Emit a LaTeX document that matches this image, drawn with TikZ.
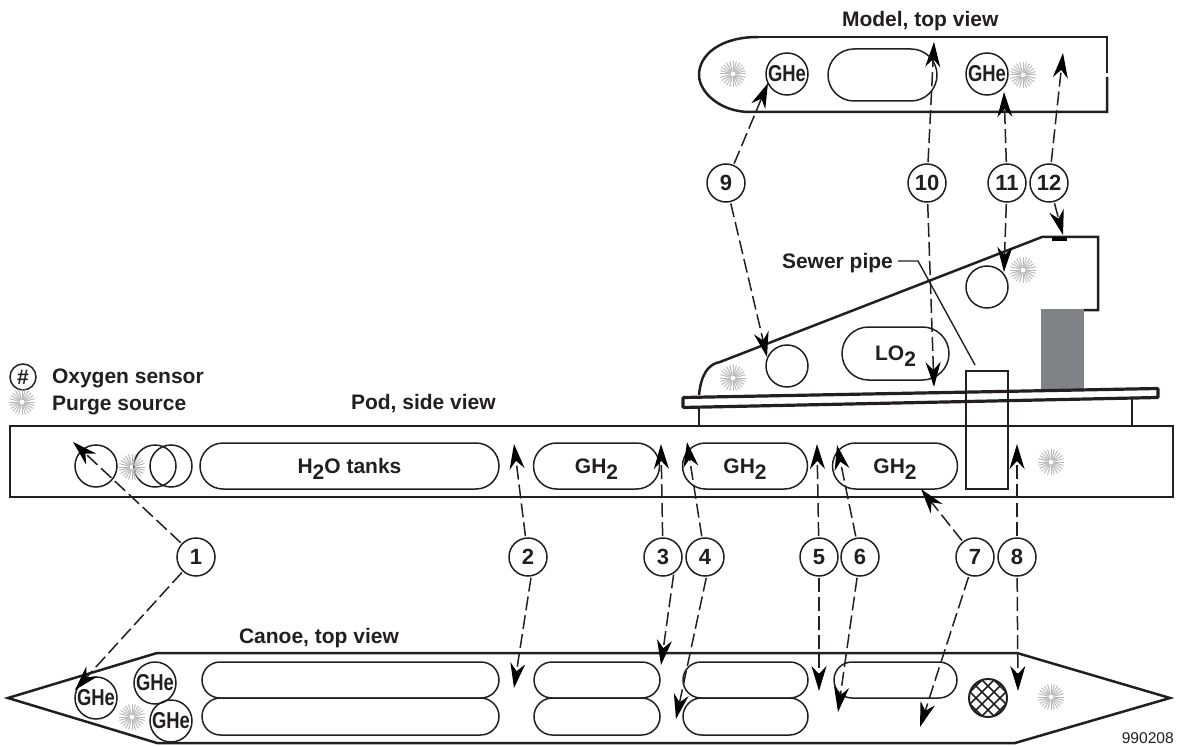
\documentclass[tikz,border=0pt]{standalone}
\usepackage{fontspec}
\setmainfont{Liberation Sans}
\usepackage{xcolor}
\usetikzlibrary{positioning}
\usetikzlibrary{arrows.meta}
\usetikzlibrary{shapes.misc}
\definecolor{ink}{HTML}{231F20}
\definecolor{ballast}{HTML}{808285}
\newcommand{\two}{\raisebox{-6pt}[0pt][0pt]{2}}
\newcommand{\ghe}{\scalebox{.8}[1]{GHe}}
\tikzset{
  caption/.style={font=\bfseries\fontsize{21}{21}\selectfont,text=ink,inner sep=0,outer sep=0},
  hull/.style={draw=ink,line width=2.5pt},
  tank/.style={rounded rectangle,draw=ink,line width=1.5pt,inner sep=0,outer sep=0,
    minimum height=46pt,text=ink,font=\bfseries\fontsize{21}{21}\selectfont},
  vessel/.style={circle,draw=ink,line width=1.5pt,inner sep=0,outer sep=0,minimum size=42pt,
    text=ink,font=\bfseries\fontsize{23}{23}\selectfont},
  num/.style={circle,draw=ink,line width=1.5pt,inner sep=0,outer sep=0,minimum size=38pt,
    text=ink,font=\bfseries\fontsize{22}{22}\selectfont},
  probe/.style={draw=ink,line width=1.5pt,dash pattern=on 14pt off 5pt,shorten <=2pt,
    -{Stealth[length=25pt,width=15pt,inset=8pt,color=black,fill=black]}},
  purge/.pic={
    \foreach \a in {0,15,...,345} {
      \draw[line width=1pt,gray!55] (\a:2.5) -- (\a:13);
    }
  }
}
\begin{document}
\begin{tikzpicture}[x=1pt,y=-1pt]
\useasboundingbox (0,0) rectangle (1178,746);

\node[circle,draw=ink,line width=1.5pt,inner sep=0,minimum size=26pt,caption,draw] (key) at (23,377) {\#};
\node[caption,anchor=base west] (keysensor) at (52,383) {Oxygen sensor};
\pic at (22,402) {purge};
\node[caption,anchor=base west] (keypurge) at (52,410) {Purge source};

\node[caption,anchor=base west] (modeltitle) at (842,27) {Model, top view};
\node[caption,anchor=base west] (podtitle) at (351,409) {Pod, side view};
\node[caption,anchor=base west] (canoetitle) at (239,643) {Canoe, top view};
\node[caption,anchor=base west] (sewerlabel) at (782,268) {Sewer pipe};

\draw[hull] (758,37) .. controls (720,37) and (699,55) .. (699,75) .. controls (699,92) and (720,112) .. (750,112) -- (1107,112) -- (1107,77);
\draw[hull] (1107,73) -- (1107,37) -- (758,37);
\node[tank,minimum width=109pt,minimum height=52pt] (modeltank) at (882.5,75) {};
\node[vessel] (modelghe) at (787,74) {\ghe};
\node[vessel] (modelgher) at (987,74) {\ghe};
\pic at (733,74) {purge};
\pic at (1023,75) {purge};

\draw[hull] (699,395) .. controls (701,375) and (708,364) .. (720,362) -- (1042,237) -- (1098,237) -- (1098,310) -- (1083,310);
\node[fill=black,inner sep=0,minimum width=15pt,minimum height=4pt] (tab) at (1059.5,239) {};
\node[fill=ballast,inner sep=0,minimum width=43pt,minimum height=80pt] (block) at (1062.5,349) {};
\node[vessel] (sidefront) at (787,366) {};
\node[vessel] (siderear) at (987,287) {};
\node[tank,minimum width=107pt,minimum height=53pt] (lox) at (895.5,353.5) {LO\two};
\pic at (733,378) {purge};
\pic at (1023,270) {purge};

\draw[hull] (699,408) -- (699,425);
\draw[hull,line width=1.8pt] (1132,398) -- (1132,425);
\draw[hull,line width=3.2pt,fill=white,rounded corners=1pt] (683,397.5) -- (1158,388.5) -- (1158,397.5) -- (683,407.5) -- cycle;

\node[draw=ink,line width=2.2pt,inner sep=0,outer sep=0,minimum width=1163pt,minimum height=71pt] (pod) at (591.5,461.5) {};
\node[vessel] (podcyla) at (96,466) {};
\node[vessel] (podcylb) at (155,466) {};
\node[vessel] (podcylc) at (171,466) {};
\pic at (132,467) {purge};
\node[tank,minimum width=299pt] (podwater) at (349.5,466) {H\two O tanks};
\node[tank,minimum width=126pt,right=34.5pt of podwater] (podgha) {GH\two};
\node[tank,minimum width=125pt,right=23pt of podgha] (podghb) {GH\two};
\node[tank,minimum width=125pt,right=25pt of podghb] (podghc) {GH\two};
\pic at (1051,462) {purge};
\node[draw=ink,line width=1.8pt,inner sep=0,outer sep=0,minimum width=42pt,minimum height=118pt] (sewerpipe) at (987,430) {};

\coordinate (sewerbend) at (918,261);
\coordinate (sewerend) at (975,365);
\draw[draw=ink,line width=1.4pt,shorten <=5pt] (sewerlabel.base east) ++(0,-7) -- (sewerbend) -- (sewerend);

\draw[hull] (8,698) -- (157,653) -- (1017,653) -- (1170,698) -- (1015,743) -- (157,743) -- cycle;
\node[vessel] (canoegheb) at (96,698) {\ghe};
\node[vessel] (canoeghea) at (155,683) {\ghe};
\node[vessel] (canoeghec) at (171,721) {\ghe};
\pic at (132,717) {purge};
\node[tank,minimum width=297pt,minimum height=36pt] (canoewatera) at (350.5,680) {};
\node[tank,minimum width=297pt,minimum height=37pt,below=0pt of canoewatera] (canoewaterb) {};
\node[tank,minimum width=126pt,minimum height=36pt] (canoegha) at (597,680) {};
\node[tank,minimum width=126pt,minimum height=37pt,below=0pt of canoegha] (canoeghb) {};
\node[tank,minimum width=125pt,minimum height=36pt] (canoeghc) at (745.5,680) {};
\node[tank,minimum width=125pt,minimum height=37pt,below=0pt of canoeghc] (canoeghd) {};
\node[tank,minimum width=123pt,minimum height=36pt] (canoeghe) at (895.5,680) {};
\node[circle,draw=ink,line width=2pt,inner sep=0,outer sep=0,minimum size=38pt,path picture={
  \foreach \d in {-18,-12,-6,0,6,12,18} {
    \draw[ink,line width=1.6pt,shift={(path picture bounding box.center)}] (\d-25,-\d-25) -- (\d+25,-\d+25);
    \draw[ink,line width=1.6pt,shift={(path picture bounding box.center)}] (\d-25,\d+25) -- (\d+25,\d-25);
  }}] (hatch) at (988,698) {};
\pic at (1051,697) {purge};
\node[text=ink,font=\fontsize{15.6}{16}\selectfont,anchor=base east,inner sep=0] (drawingno) at (1174,743) {990208};

\node[num] (n1) at (196,557) {1};
\node[num] (n2) at (528,557) {2};
\node[num] (n3) at (663,557) {3};
\node[num,right=4pt of n3] (n4) {4};
\node[num] (n5) at (819,557) {5};
\node[num,right=3pt of n5] (n6) {6};
\node[num] (n7) at (975,557) {7};
\node[num,right=4pt of n7] (n8) {8};
\node[num] (n9) at (726,183) {9};
\node[num] (n10) at (927,183) {10};
\node[num] (n11) at (1007,183) {11};
\node[num,right=4pt of n11] (n12) {12};

\coordinate (podsensora) at (73,442);
\coordinate (podsensorb) at (514,444);
\coordinate (podsensorc) at (661,444);
\coordinate (podsensord) at (687,442);
\coordinate (podsensore) at (817,444);
\coordinate (podsensorf) at (837,445);
\coordinate (podsensorg) at (921,489);
\coordinate (podsensorh) at (1017,444);
\coordinate (canoesensora) at (75,690);
\coordinate (canoesensorb) at (514,688);
\coordinate (canoesensorc) at (661,665);
\coordinate (canoesensord) at (676,719);
\coordinate (canoesensore) at (819,691);
\coordinate (canoesensorf) at (838,712);
\coordinate (canoesensorg) at (920,727);
\coordinate (canoesensorh) at (1018,691);
\coordinate (modelsensora) at (768,83);
\coordinate (modelsensorb) at (934,42);
\coordinate (modelsensorc) at (1004,92);
\coordinate (modelsensord) at (1063,53);
\coordinate (sidesensora) at (767,357);
\coordinate (sidesensorb) at (934,387);
\coordinate (sidesensorc) at (1004,272);
\coordinate (sidesensord) at (1063,235);

\draw[probe] (n1) -- (podsensora);
\draw[probe] (n1) -- (canoesensora);
\draw[probe] (n2) -- (podsensorb);
\draw[probe] (n2.-80) -- (canoesensorb);
\draw[probe] (n3) -- (podsensorc);
\draw[probe] (n3.-55) -- (canoesensorc);
\draw[probe] (n4) -- (podsensord);
\draw[probe] (n4.-85) -- (canoesensord);
\draw[probe] (n5) -- (podsensore);
\draw[probe] (n5) -- (canoesensore);
\draw[probe] (n6) -- (podsensorf);
\draw[probe] (n6) -- (canoesensorf);
\draw[probe] (n7) -- (podsensorg);
\draw[probe] (n7) -- (canoesensorg);
\draw[probe] (n8) -- (podsensorh);
\draw[probe] (n8) -- (canoesensorh);
\draw[probe] (n9) -- (modelsensora);
\draw[probe] (n9) -- (sidesensora);
\draw[probe] (n10) -- (modelsensorb);
\draw[probe] (n10) -- (sidesensorb);
\draw[probe] (n11) -- (modelsensorc);
\draw[probe] (n11) -- (sidesensorc);
\draw[probe] (n12) -- (modelsensord);
\draw[probe] (n12) -- (sidesensord);
\end{tikzpicture}
\end{document}
